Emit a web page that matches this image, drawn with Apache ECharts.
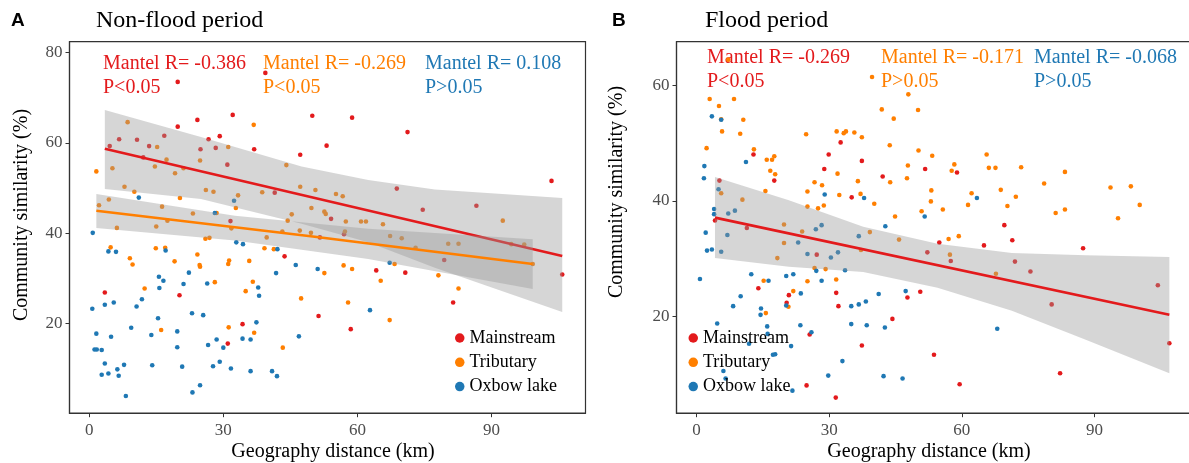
<!DOCTYPE html>
<html>
<head>
<meta charset="utf-8">
<script src="https://cdn.jsdelivr.net/npm/echarts@6/dist/echarts.min.js"></script>
<style>
html,body{margin:0;padding:0;background:#fff;}
#chart{width:1189px;height:463px;}
</style>
</head>
<body>
<div id="chart"></div>
<script>
// ---------- Panel A: Non-flood period ----------
const mainA = [[19.8,73.5],[39.4,75.5],[32.1,66.2],[24.2,65.1],[19.8,63.6],[29.2,61.5],[26.7,60.8],[28.3,58.9],[36.9,58.6],[6.7,60.8],[10.7,60.7],[13.4,59.3],[16.8,61.6],[4.6,59.3],[24.9,58.6],[30.9,55.2],[12.1,56.8],[47.2,57.4],[49.9,66.0],[58.8,65.6],[53.1,59.4],[71.2,62.4],[41.5,49.0],[31.6,42.7],[51.6,39.1],[54.1,43.2],[57.0,39.8],[68.8,49.9],[74.6,45.2],[86.6,46.1],[103.4,51.6],[79.4,34.1],[105.8,30.9],[43.7,34.9],[64.2,31.8],[70.7,31.3],[81.4,24.7],[51.3,21.7],[58.5,18.8],[34.3,19.9],[31.0,15.6],[20.2,26.3],[3.5,26.9]];
const tribA = [[1.6,53.7],[8.6,64.6],[36.8,64.0],[31.1,59.1],[15.2,59.1],[5.2,54.4],[44.1,55.1],[14.7,54.8],[17.3,56.3],[24.8,56.1],[7.9,50.3],[10.1,49.2],[19.2,53.3],[26.1,49.6],[27.8,49.2],[20.3,47.8],[33.3,48.4],[2.2,46.2],[4.4,47.5],[16.3,45.9],[38.7,49.1],[47.2,50.3],[50.6,49.6],[55.2,48.7],[56.7,48.2],[49.7,45.6],[52.6,44.8],[52.9,44.3],[45.3,44.2],[32.8,45.6],[23.2,44.4],[28.5,44.5],[44.4,42.8],[17.5,42.8],[6.2,41.2],[15.0,41.5],[31.8,41.1],[26.0,38.8],[26.9,39.0],[39.7,39.1],[43.2,40.4],[47.1,40.6],[49.6,40.1],[57.2,40.4],[57.4,42.6],[60.8,42.6],[61.9,42.6],[65.7,42.0],[67.3,39.4],[69.9,38.9],[73.0,36.8],[80.3,37.7],[82.6,37.7],[92.5,42.8],[94.4,37.6],[97.3,37.5],[99.2,33.2],[4.8,36.9],[9.1,34.5],[9.7,33.1],[14.9,36.7],[17.0,36.8],[19.1,33.8],[12.4,27.8],[16.1,18.6],[24.2,35.3],[24.7,33.0],[24.8,32.6],[28.1,29.2],[31.3,34.0],[31.1,33.2],[35.8,33.9],[39.2,36.7],[41.3,36.5],[36.6,29.3],[35.0,27.2],[31.2,19.2],[36.9,18.0],[43.3,14.7],[47.4,25.6],[68.3,33.2],[65.2,29.5],[56.9,32.9],[58.8,32.1],[52.6,31.2],[78.1,30.7],[82.6,27.8],[57.9,24.7],[67.2,20.8],[21.1,54.4]];
const oxbowA = [[0.8,40.1],[11.1,47.9],[32.4,47.2],[28.1,44.5],[17.1,36.2],[4.3,36.0],[6.0,35.9],[32.9,38.0],[34.4,37.6],[42.1,36.5],[46.2,33.0],[51.1,32.1],[67.2,33.5],[41.8,31.2],[22.3,31.3],[21.1,28.8],[26.4,28.9],[37.8,28.0],[38.0,26.2],[15.6,30.4],[16.6,29.5],[15.7,27.9],[5.5,24.7],[3.5,24.2],[10.6,23.8],[11.8,25.4],[0.7,23.3],[15.4,21.2],[23.0,22.3],[25.5,21.9],[37.4,20.3],[62.8,23.0],[9.4,19.1],[19.7,18.3],[1.6,17.8],[4.9,17.1],[13.9,17.5],[46.9,17.2],[34.3,16.7],[36.1,16.5],[28.5,16.5],[26.6,15.3],[30.0,14.7],[19.7,14.8],[1.2,14.3],[1.7,14.3],[2.8,14.2],[3.5,11.2],[7.8,10.9],[6.3,9.9],[6.6,8.5],[4.3,9.0],[2.8,8.7],[8.2,4.0],[14.1,10.8],[20.8,10.5],[27.7,10.6],[29.2,11.6],[31.7,10.1],[24.8,6.4],[23.1,4.8],[36.1,9.5],[40.9,9.5],[42.0,8.4]];
// fitted lines and confidence bands
const fitMainA = [[3.5,58.7],[105.8,35.0]];
const bandMainA_x = [3.5, 25, 47.5, 62.4, 77.3, 105.8];
const bandMainA_up = [67.3, 61.3, 54.8, 51.8, 49.7, 47.8];
const bandMainA_lo = [49.8, 47.6, 42.1, 38.0, 32.4, 22.6];
const fitTribA = [[1.6,45.0],[50,39.3],[99.2,33.2]];
const bandTribA_x = [1.6, 32.6, 62.4, 99.2];
const bandTribA_up = [48.7, 43.9, 41.0, 38.7];
const bandTribA_lo = [41.2, 38.4, 34.3, 27.7];

// ---------- Panel B: Flood period ----------
const mainB = [[32.6,50.1],[29.9,48.0],[12.9,48.0],[37.4,46.9],[28.9,45.5],[51.7,45.5],[58.9,44.9],[42.1,44.2],[17.6,43.5],[5.2,43.5],[35.1,40.6],[4.2,36.6],[11.4,35.3],[69.6,35.8],[71.4,33.2],[54.9,32.8],[65.0,32.3],[87.4,31.8],[27.2,30.7],[52.2,31.1],[57.5,29.6],[72.0,29.5],[75.5,27.8],[104.3,25.4],[80.3,22.1],[14.0,24.9],[31.6,24.1],[50.6,24.3],[47.7,23.3],[20.9,23.7],[20.4,22.4],[32.1,21.8],[44.3,19.6],[25.6,16.9],[37.4,15.0],[106.9,15.4],[53.7,13.4],[82.2,10.2],[24.9,8.1],[59.5,8.3],[31.5,6.0]];
const tribB = [[7.2,64.4],[39.7,61.4],[3.0,57.6],[8.5,57.6],[5.1,56.4],[47.9,58.4],[41.9,55.8],[50.1,55.7],[5.6,54.1],[10.6,54.0],[44.6,54.2],[5.8,52.0],[9.9,51.6],[24.8,51.5],[31.7,52.0],[33.3,51.7],[33.8,52.0],[35.7,51.8],[37.4,51.0],[2.3,49.1],[13.0,48.9],[43.7,49.6],[50.2,48.7],[65.6,48.0],[15.9,47.1],[17.1,47.1],[17.6,47.7],[53.3,47.8],[58.3,46.3],[66.1,45.7],[67.6,45.7],[73.4,45.8],[83.3,45.0],[16.7,45.2],[17.8,44.6],[31.9,44.7],[47.8,46.1],[57.7,45.2],[26.7,43.2],[28.4,42.7],[36.5,43.4],[43.8,43.2],[47.6,43.9],[15.6,41.7],[25.1,41.6],[32.3,41.0],[37.1,41.2],[53.1,41.8],[62.2,41.3],[68.8,41.9],[72.2,40.7],[78.6,43.0],[93.6,42.3],[98.2,42.5],[100.2,39.3],[95.3,37.0],[81.2,37.9],[83.3,38.5],[70.3,39.1],[61.4,39.3],[55.7,38.5],[50.9,38.2],[53.0,39.9],[40.2,39.5],[25.1,39.0],[27.5,38.7],[28.8,39.2],[10.4,40.2],[5.6,41.3],[44.9,37.3],[39.2,34.6],[23.9,34.7],[19.8,35.9],[19.8,32.7],[45.8,33.3],[57.0,33.4],[59.3,33.9],[37.2,31.5],[67.7,27.4],[18.3,30.1],[29.2,28.2],[26.7,28.4],[31.6,26.4],[25.1,26.1],[15.2,26.2],[21.9,24.4],[20.8,21.7],[15.7,20.6],[57.3,30.7]];
const oxbowB = [[3.5,54.6],[5.6,54.0],[11.2,46.7],[1.8,46.0],[1.7,43.9],[5.0,42.0],[29.0,41.1],[37.9,40.5],[63.4,40.5],[4.0,38.6],[4.0,37.7],[8.7,38.3],[7.2,37.8],[51.6,37.3],[2.1,34.5],[7.0,34.1],[2.4,31.4],[3.5,31.6],[5.6,31.2],[27.0,35.1],[28.3,35.8],[23.0,32.8],[25.1,30.8],[30.4,30.2],[32.0,31.1],[36.7,33.9],[42.7,35.6],[33.6,28.0],[27.1,27.9],[0.8,26.5],[12.4,27.3],[16.3,26.2],[20.3,27.0],[21.9,27.3],[28.3,26.2],[10.0,23.5],[23.6,24.0],[8.3,21.8],[14.6,21.4],[14.5,20.3],[20.3,21.9],[35.0,21.8],[36.7,22.1],[38.3,22.6],[41.2,23.9],[47.3,24.4],[4.7,18.8],[16.0,18.3],[23.5,18.5],[35.0,18.7],[38.5,18.5],[42.6,18.1],[68.0,17.9],[26.0,17.3],[16.1,17.0],[11.9,15.3],[21.4,14.9],[17.3,13.4],[17.8,13.5],[33.0,12.3],[6.1,10.6],[6.6,9.3],[29.8,9.8],[42.3,9.7],[46.6,9.3],[21.7,7.2]];
const fitMainB = [[4.2,37.1],[106.9,20.3]];
const bandMainB_x = [4.2, 20.9, 37.7, 54.5, 71.3, 88, 106.9];
const bandMainB_up = [44.1, 40.1, 35.5, 32.6, 31.0, 30.6, 30.3];
const bandMainB_lo = [30.1, 28.6, 27.7, 25.0, 21.0, 16.0, 10.2];

// tick labels
const xTicks = [0, 30, 60, 90];
const yTicksA = [20, 40, 60, 80];
const yTicksB = [20, 40, 60];

const RED = '#E31A1C', ORANGE = '#FF7F00', BLUE = '#1F78B4';
const SERIF = '"Liberation Serif", "Times New Roman", serif';

function xAxis(idx, min, max) {
  return {
    type: 'value', gridIndex: idx, min: min, max: max,
    splitLine: {show: false},
    axisLine: {show: true, onZero: false, lineStyle: {color: '#333', width: 1.2}},
    axisTick: {show: true, length: 4, customValues: xTicks, lineStyle: {color: '#333'}},
    axisLabel: {customValues: xTicks, margin: 9, color: '#4D4D4D', fontFamily: SERIF, fontSize: 17}
  };
}
function yAxis(idx, min, max, ticks) {
  return {
    type: 'value', gridIndex: idx, min: min, max: max,
    splitLine: {show: false},
    axisLine: {show: true, onZero: false, lineStyle: {color: '#333', width: 1.2}},
    axisTick: {show: true, length: 4, customValues: ticks, lineStyle: {color: '#333'}},
    axisLabel: {customValues: ticks, margin: 7, color: '#4D4D4D', fontFamily: SERIF, fontSize: 17}
  };
}
function scatter(name, idx, data, color) {
  return {name: name, type: 'scatter', xAxisIndex: idx, yAxisIndex: idx, data: data,
    symbol: 'circle', symbolSize: 4.6, z: 1, silent: true,
    itemStyle: {color: color, opacity: 1}};
}
function band(idx, bx, up, lo, z) {
  return {type: 'custom', xAxisIndex: idx, yAxisIndex: idx, z: z, silent: true,
    data: [[bx[0], up[0]]],
    renderItem: function (params, api) {
      const pts = [];
      for (let i = 0; i < bx.length; i++) pts.push(api.coord([bx[i], up[i]]));
      for (let i = bx.length - 1; i >= 0; i--) pts.push(api.coord([bx[i], lo[i]]));
      return {type: 'polygon', shape: {points: pts}, style: {fill: 'rgba(153,153,153,0.4)'}};
    }};
}
function fit(idx, data, color, z) {
  return {type: 'line', xAxisIndex: idx, yAxisIndex: idx, data: data, z: z, silent: true,
    showSymbol: false, symbol: 'none', lineStyle: {color: color, width: 2.6}};
}
function txt(x, y, text, color, size, align, extra) {
  return Object.assign({type: 'text', x: x, y: y, silent: true,
    style: {text: text, fill: color, font: size + 'px ' + SERIF, textAlign: align || 'left', textVerticalAlign: 'middle'}}, extra || {});
}
function legend(left) {
  return {data: ['Mainstream', 'Tributary', 'Oxbow lake'], orient: 'vertical', left: left, top: 329,
    icon: 'circle', itemWidth: 9.5, itemHeight: 9.5, itemGap: 6.3, selectedMode: false,
    padding: 0, textStyle: {fontFamily: SERIF, fontSize: 18, color: '#000', lineHeight: 18}};
}

const chart = echarts.init(document.getElementById('chart'), null, {renderer: 'canvas'});
chart.setOption({
  animation: false,
  backgroundColor: '#fff',
  grid: [
    {left: 69.5, top: 41.7, width: 516, height: 371.5, show: true, borderColor: '#333', borderWidth: 1.2, backgroundColor: 'transparent', containLabel: false, outerBoundsMode: 'none'},
    {left: 676.5, top: 41.7, width: 530.9, height: 371.5, show: true, borderColor: '#333', borderWidth: 1.2, backgroundColor: 'transparent', containLabel: false, outerBoundsMode: 'none'}
  ],
  xAxis: [xAxis(0, -4.4, 111.0), xAxis(1, -4.5, 115.5)],
  yAxis: [yAxis(0, 0.2, 82.4, yTicksA), yAxis(1, 3.3, 67.5, yTicksB)],
  legend: [legend(455), legend(688.5)],
  series: [
    scatter('Mainstream', 0, mainA, RED),
    scatter('Tributary', 0, tribA, ORANGE),
    scatter('Oxbow lake', 0, oxbowA, BLUE),
    band(0, bandMainA_x, bandMainA_up, bandMainA_lo, 2),
    fit(0, fitMainA, RED, 3),
    band(0, bandTribA_x, bandTribA_up, bandTribA_lo, 4),
    fit(0, fitTribA, ORANGE, 5),
    scatter('Mainstream', 1, mainB, RED),
    scatter('Tributary', 1, tribB, ORANGE),
    scatter('Oxbow lake', 1, oxbowB, BLUE),
    band(1, bandMainB_x, bandMainB_up, bandMainB_lo, 2),
    fit(1, fitMainB, RED, 3)
  ],
  graphic: [
    {type: 'text', x: 11, y: 21, silent: true, style: {text: 'A', fill: '#000', font: 'bold 19px "Liberation Sans", Arial, sans-serif', textVerticalAlign: 'middle'}},
    {type: 'text', x: 612, y: 21, silent: true, style: {text: 'B', fill: '#000', font: 'bold 19px "Liberation Sans", Arial, sans-serif', textVerticalAlign: 'middle'}},
    txt(96, 21, 'Non-flood period', '#000', 24),
    txt(705, 21, 'Flood period', '#000', 24),
    txt(103, 63.5, 'Mantel R= -0.386', RED, 20),
    txt(103, 87.5, 'P<0.05', RED, 20),
    txt(263, 63.5, 'Mantel R= -0.269', ORANGE, 20),
    txt(263, 87.5, 'P<0.05', ORANGE, 20),
    txt(425, 63.5, 'Mantel R= 0.108', BLUE, 20),
    txt(425, 87.5, 'P>0.05', BLUE, 20),
    txt(707, 57.5, 'Mantel R= -0.269', RED, 20),
    txt(707, 82, 'P<0.05', RED, 20),
    txt(881, 57.5, 'Mantel R= -0.171', ORANGE, 20),
    txt(881, 82, 'P>0.05', ORANGE, 20),
    txt(1034, 57.5, 'Mantel R= -0.068', BLUE, 20),
    txt(1034, 82, 'P>0.05', BLUE, 20),
    txt(333, 452, 'Geography distance (km)', '#000', 20, 'center'),
    txt(929, 452, 'Geography distance (km)', '#000', 20, 'center'),
    txt(22, 215, 'Community similarity (%)', '#000', 20, 'center', {rotation: Math.PI / 2}),
    txt(617, 192, 'Community similarity (%)', '#000', 20, 'center', {rotation: Math.PI / 2})
  ]
});
</script>
</body>
</html>
